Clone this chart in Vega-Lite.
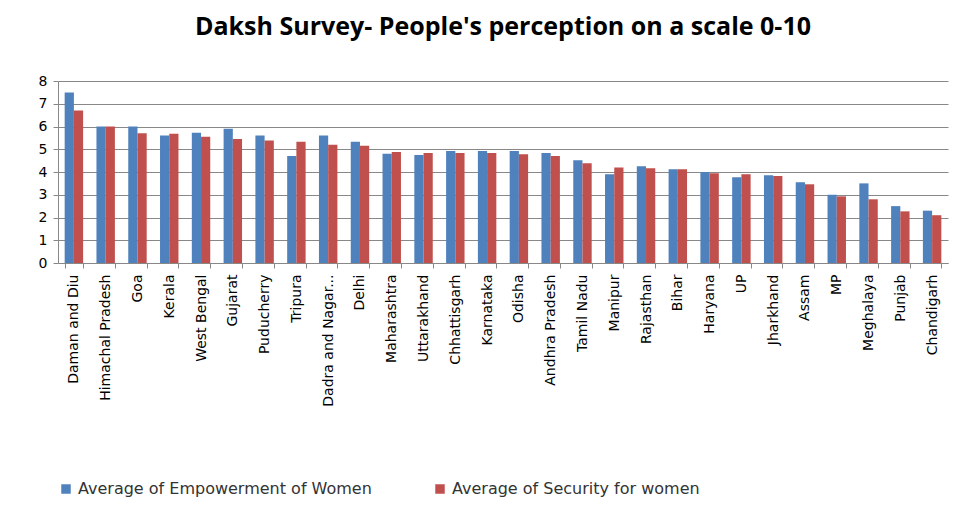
{
  "$schema": "https://vega.github.io/schema/vega-lite/v6.json",
  "width": 890,
  "height": 182,
  "padding": {"left": 38, "top": 15, "right": 15, "bottom": 10},
  "config": {
    "view": {"stroke": "transparent"},
    "font": "Open Sans",
    "axis": {"labelFont": "DejaVu Sans", "labelColor": "#000", "labelFontSize": 14}
  },
  "title": {"text": "Daksh Survey- People's perception  on a scale 0-10", "fontSize": 25, "font": "Open Sans", "fontWeight": "bold", "color": "#000", "offset": 34},
  "data": {
    "values": [
      {"state": "Daman and Diu", "e": 7.5, "s": 6.7},
      {"state": "Himachal Pradesh", "e": 6.0, "s": 6.0},
      {"state": "Goa", "e": 6.0, "s": 5.7},
      {"state": "Kerala", "e": 5.6, "s": 5.68},
      {"state": "West Bengal", "e": 5.72, "s": 5.55},
      {"state": "Gujarat", "e": 5.9, "s": 5.45},
      {"state": "Puducherry", "e": 5.6, "s": 5.38},
      {"state": "Tripura", "e": 4.7, "s": 5.33},
      {"state": "Dadra and Nagar...", "e": 5.6, "s": 5.2},
      {"state": "Delhi", "e": 5.33, "s": 5.15},
      {"state": "Maharashtra", "e": 4.8, "s": 4.88},
      {"state": "Uttarakhand", "e": 4.75, "s": 4.83},
      {"state": "Chhattisgarh", "e": 4.92, "s": 4.83},
      {"state": "Karnataka", "e": 4.92, "s": 4.83},
      {"state": "Odisha", "e": 4.92, "s": 4.78},
      {"state": "Andhra Pradesh", "e": 4.83, "s": 4.7},
      {"state": "Tamil Nadu", "e": 4.52, "s": 4.38},
      {"state": "Manipur", "e": 3.9, "s": 4.2},
      {"state": "Rajasthan", "e": 4.25, "s": 4.16},
      {"state": "Bihar", "e": 4.12, "s": 4.12},
      {"state": "Haryana", "e": 4.0, "s": 3.94},
      {"state": "UP", "e": 3.77, "s": 3.9},
      {"state": "Jharkhand", "e": 3.86, "s": 3.82},
      {"state": "Assam", "e": 3.55, "s": 3.46},
      {"state": "MP", "e": 3.0, "s": 2.93},
      {"state": "Meghalaya", "e": 3.5, "s": 2.8},
      {"state": "Punjab", "e": 2.5, "s": 2.27},
      {"state": "Chandigarh", "e": 2.3, "s": 2.1}
    ]
  },
  "transform": [
    {"fold": ["e", "s"], "as": ["k", "value"]},
    {"calculate": "datum.k === 'e' ? 'Average of Empowerment of Women' : 'Average of Security for women'", "as": "series"}
  ],
  "mark": {"type": "bar"},
  "encoding": {
    "x": {
      "field": "state", "type": "nominal", "sort": null, "title": null,
      "scale": {"paddingInner": 0.42, "paddingOuter": 0.21},
      "axis": {"labelAngle": -90, "domainColor": "#888", "tickColor": "#888", "tickBand": "extent", "labelPadding": 6, "labelBaseline": "middle"}
    },
    "xOffset": {"field": "series", "type": "nominal"},
    "y": {
      "field": "value", "type": "quantitative", "title": null,
      "scale": {"domain": [0, 8]},
      "axis": {"tickCount": 8, "gridColor": "#888", "domainColor": "#888", "tickColor": "#888", "labelPadding": 6}
    },
    "color": {
      "field": "series", "type": "nominal",
      "scale": {"range": ["#4F81BD", "#C0504D"]},
      "legend": {"orient": "bottom", "title": null, "direction": "horizontal", "symbolType": "square", "symbolSize": 90, "labelFontSize": 16, "labelFont": "DejaVu Sans", "labelColor": "#333", "columnPadding": 60, "offset": 74, "padding": 0, "labelLimit": 400}
    }
  }
}
